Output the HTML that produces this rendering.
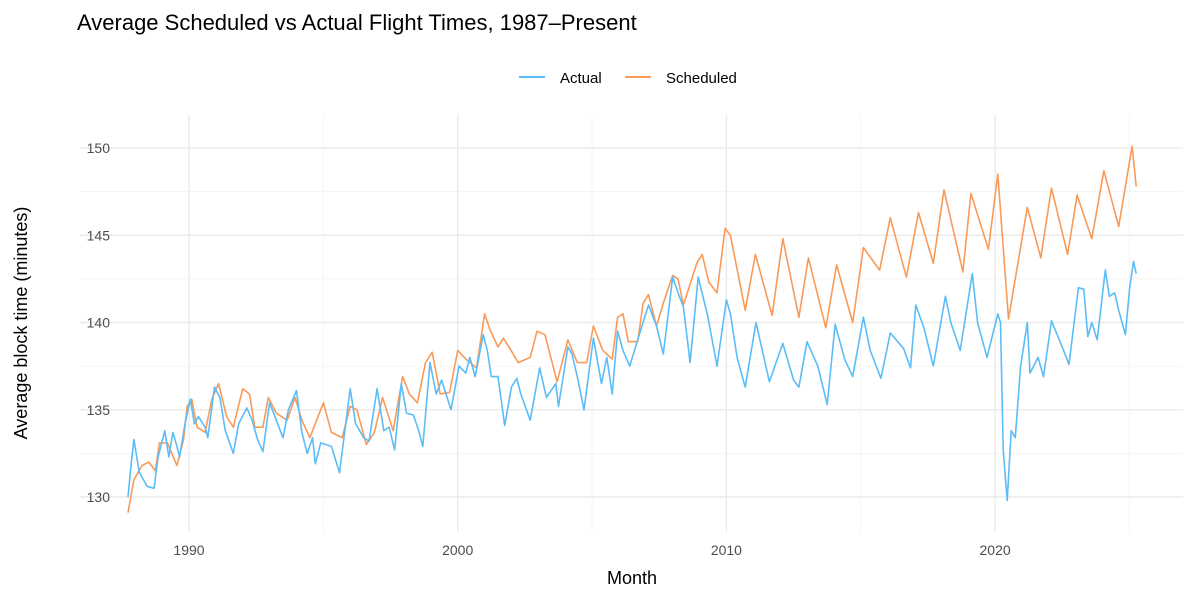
<!DOCTYPE html>
<html><head><meta charset="utf-8"><style>
body{margin:0;background:#fff;font-family:"Liberation Sans",sans-serif}
</style></head><body>
<svg id="chart" width="1200" height="600" xmlns="http://www.w3.org/2000/svg" font-family="Liberation Sans, sans-serif">
<rect width="1200" height="600" fill="#fff"/>
<text x="77" y="30" font-size="22" fill="#000">Average Scheduled vs Actual Flight Times, 1987–Present</text>
<g>
<g><line x1="519" y1="77" x2="545" y2="77" stroke="#5BBDF8" stroke-width="2"/><text x="560" y="83" font-size="15" fill="#000">Actual</text></g>
<g><line x1="625" y1="77" x2="651" y2="77" stroke="#FA9A58" stroke-width="2"/><text x="666" y="83" font-size="15" fill="#000">Scheduled</text></g>
</g>
<g id="grid"></g>
<g id="yticks"></g>
<g id="xticks"></g>
<g id="series"></g>
<text x="632" y="584" font-size="18" text-anchor="middle" fill="#000">Month</text>
<text transform="translate(27,323) rotate(-90)" font-size="18" text-anchor="middle" fill="#000">Average block time (minutes)</text>
</svg>
<script>
const yTicks=[130,135,140,145,150];
const xTicks=[1990,2000,2010,2020];
const actualYears=[1987.73,1987.85,1987.95,1988.15,1988.45,1988.7,1988.85,1989.1,1989.25,1989.4,1989.55,1989.65,1989.85,1990.05,1990.2,1990.35,1990.6,1990.7,1990.95,1991.15,1991.35,1991.65,1991.85,1992.15,1992.35,1992.55,1992.75,1993.0,1993.25,1993.5,1993.7,1994.0,1994.2,1994.4,1994.6,1994.7,1994.9,1995.3,1995.6,1996.0,1996.2,1996.5,1996.7,1997.0,1997.25,1997.45,1997.65,1997.9,1998.1,1998.35,1998.55,1998.7,1998.97,1999.2,1999.4,1999.75,2000.05,2000.3,2000.45,2000.65,2000.95,2001.1,2001.25,2001.5,2001.75,2002.0,2002.2,2002.35,2002.7,2003.05,2003.3,2003.65,2003.75,2004.1,2004.25,2004.45,2004.7,2005.05,2005.35,2005.55,2005.75,2005.95,2006.15,2006.4,2006.7,2007.1,2007.4,2007.65,2008.0,2008.2,2008.4,2008.65,2008.95,2009.3,2009.65,2010.0,2010.15,2010.4,2010.7,2011.1,2011.6,2012.1,2012.5,2012.7,2013.0,2013.4,2013.75,2014.05,2014.4,2014.7,2015.1,2015.35,2015.75,2016.1,2016.6,2016.85,2017.05,2017.35,2017.7,2018.15,2018.35,2018.7,2019.15,2019.35,2019.7,2020.1,2020.2,2020.3,2020.45,2020.6,2020.75,2020.95,2021.2,2021.3,2021.6,2021.8,2022.1,2022.55,2022.75,2023.1,2023.3,2023.45,2023.6,2023.8,2024.1,2024.25,2024.45,2024.6,2024.85,2025.0,2025.15,2025.25];
const actualValues=[130,131.9,133.3,131.4,130.6,130.5,132.3,133.8,132.3,133.7,132.9,132.3,134.2,135.6,134.2,134.6,134,133.4,136.3,135.7,133.8,132.5,134.2,135.1,134.4,133.3,132.6,135.4,134.4,133.4,135,136.1,133.7,132.5,133.4,131.9,133.1,132.9,131.4,136.2,134.2,133.4,133.2,136.2,133.8,134,132.7,136.5,134.8,134.7,133.8,132.9,137.7,135.9,136.7,135,137.5,137.1,138,136.9,139.3,138.4,136.9,136.9,134.1,136.3,136.8,135.9,134.4,137.4,135.7,136.5,135.2,138.6,138.2,136.9,135,139.1,136.5,138,135.9,139.5,138.4,137.5,139,141,139.8,138.2,142.6,141.7,140.9,137.7,142.6,140.4,137.5,141.3,140.5,138,136.3,140,136.6,138.8,136.7,136.3,138.9,137.5,135.3,139.9,137.9,136.9,140.3,138.4,136.8,139.4,138.5,137.4,141,139.7,137.5,141.5,140,138.4,142.8,140,138,140.5,140,132.7,129.8,133.8,133.4,137.5,140,137.1,138,136.9,140.1,138.4,137.6,142,141.9,139.2,140,139,143,141.5,141.7,140.7,139.3,141.9,143.5,142.8];
const schedYears=[1987.73,1987.95,1988.25,1988.5,1988.75,1988.9,1989.2,1989.55,1989.8,1989.93,1990.1,1990.3,1990.6,1990.85,1991.1,1991.4,1991.65,1992.0,1992.25,1992.45,1992.75,1992.95,1993.25,1993.65,1993.95,1994.2,1994.5,1995.0,1995.3,1995.7,1996.0,1996.25,1996.6,1996.9,1997.2,1997.6,1997.95,1998.2,1998.5,1998.8,1999.05,1999.35,1999.7,2000.0,2000.3,2000.7,2001.0,2001.2,2001.5,2001.7,2001.95,2002.25,2002.7,2002.95,2003.25,2003.7,2004.1,2004.45,2004.8,2005.05,2005.4,2005.75,2005.95,2006.15,2006.35,2006.7,2006.9,2007.1,2007.4,2007.65,2008.0,2008.2,2008.4,2008.9,2009.1,2009.35,2009.65,2009.95,2010.15,2010.7,2011.08,2011.7,2012.1,2012.7,2013.05,2013.7,2014.1,2014.7,2015.1,2015.7,2016.1,2016.7,2017.15,2017.7,2018.1,2018.8,2019.1,2019.75,2020.1,2020.5,2021.2,2021.7,2022.1,2022.7,2023.05,2023.6,2024.05,2024.6,2025.1,2025.25];
const schedValues=[129.1,131,131.8,132,131.5,133.1,133.1,131.8,133.3,135.2,135.6,134,133.7,135.6,136.5,134.6,134,136.2,135.9,134,134,135.7,134.8,134.4,135.7,134.4,133.4,135.4,133.7,133.4,135.2,135,133,133.7,135.7,133.8,136.9,135.9,135.4,137.7,138.3,135.9,136,138.4,137.9,137.4,140.5,139.6,138.6,139.1,138.5,137.7,138,139.5,139.3,136.6,139,137.7,137.7,139.8,138.4,137.9,140.3,140.5,138.9,138.9,141.1,141.6,139.8,141.1,142.7,142.5,141,143.4,143.9,142.3,141.7,145.4,145,140.7,143.9,140.4,144.8,140.3,143.7,139.7,143.3,140,144.3,143,146,142.6,146.3,143.4,147.6,142.9,147.4,144.2,148.5,140.2,146.6,143.7,147.7,143.9,147.3,144.8,148.7,145.5,150.1,147.8];

const NS="http://www.w3.org/2000/svg";
const PX0=80,PX1=1183,PY0=115,PY1=532;
function xs(v){return 189+(v-1990)*26.87;}
function ys(v){return 148+(150-v)*17.45;}
const grid=document.getElementById('grid');
function gl(x1,y1,x2,y2,w,c,name){const l=document.createElementNS(NS,'line');
l.setAttribute('x1',x1);l.setAttribute('y1',y1);l.setAttribute('x2',x2);l.setAttribute('y2',y2);
l.setAttribute('stroke',c);l.setAttribute('stroke-width',w);


grid.appendChild(l);}
yTicks.forEach((t,i)=>{gl(PX0,ys(t),PX1,ys(t),1.4,'#ebebeb','y-gridline');
if(i<yTicks.length-1){gl(PX0,ys(t+2.5),PX1,ys(t+2.5),0.8,'#f2f2f2','y-minor-gridline');}
const tx=document.createElementNS(NS,'text');tx.setAttribute('x',110);tx.setAttribute('y',ys(t)+5);
tx.setAttribute('text-anchor','end');tx.setAttribute('font-size','14');tx.setAttribute('fill','#4d4d4d');tx.textContent=t;


document.getElementById('yticks').appendChild(tx);});
xTicks.forEach((t)=>{gl(xs(t),PY0,xs(t),PY1,1.4,'#ebebeb','x-gridline');
if(xs(t-5)>PX0){gl(xs(t-5),PY0,xs(t-5),PY1,0.8,'#f2f2f2','x-minor-gridline');}
const tx=document.createElementNS(NS,'text');tx.setAttribute('x',xs(t));tx.setAttribute('y',555);
tx.setAttribute('text-anchor','middle');tx.setAttribute('font-size','14');tx.setAttribute('fill','#4d4d4d');tx.textContent=t;


document.getElementById('xticks').appendChild(tx);});
gl(xs(2025),PY0,xs(2025),PY1,0.8,'#f2f2f2','x-minor-gridline');
function line(X,Y,color,name){const p=document.createElementNS(NS,'path');
p.setAttribute('d',X.map((x,i)=>(i?'L':'M')+xs(x).toFixed(1)+','+ys(Y[i]).toFixed(1)).join(''));
p.setAttribute('fill','none');p.setAttribute('stroke',color);p.setAttribute('stroke-width','1.6');p.setAttribute('stroke-linejoin','round');


document.getElementById('series').appendChild(p);}
line(schedYears,schedValues,'#FA9A58','scheduled-line');
line(actualYears,actualValues,'#5BBDF8','actual-line');
</script>
</body></html>
